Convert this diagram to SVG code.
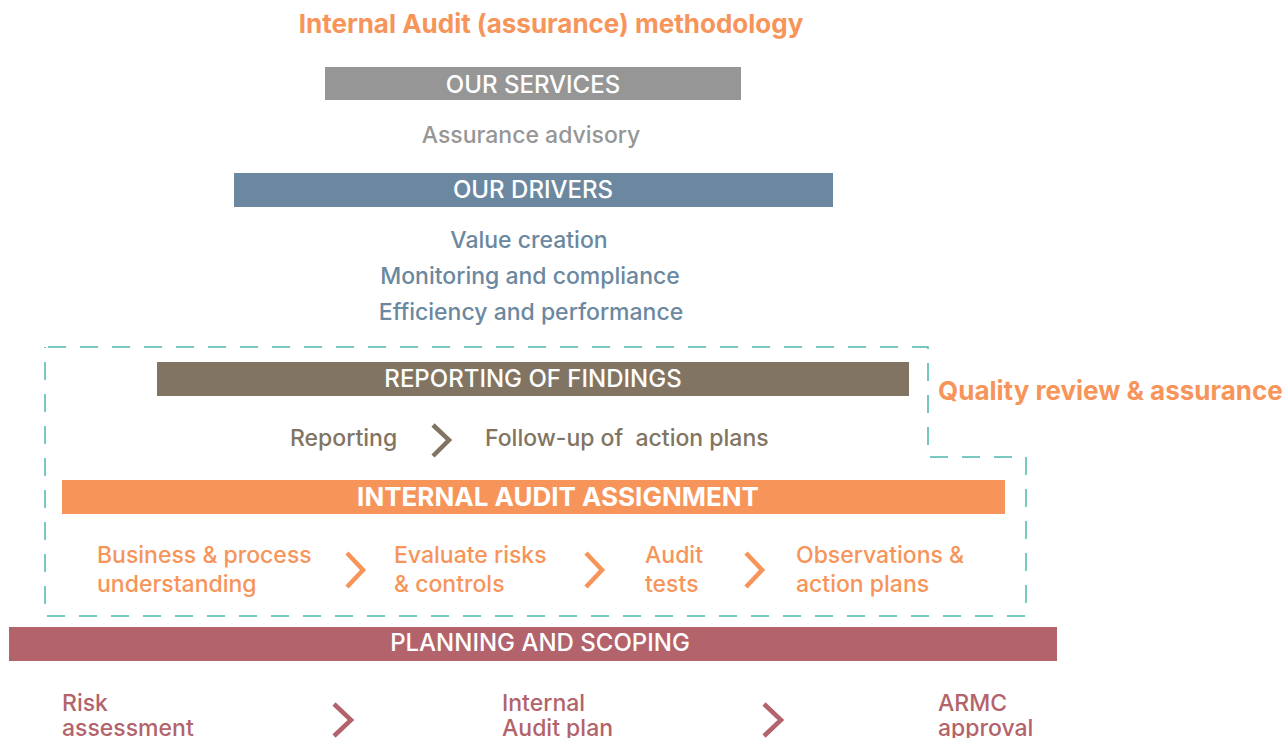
<svg xmlns="http://www.w3.org/2000/svg" width="1284" height="738" viewBox="0 0 1284 738">
<style>
text{font-family:Inter,"Liberation Sans",Arial,sans-serif;font-weight:500}
.bar{font-size:24px;fill:#fff;text-anchor:middle}
.big{font-size:26px}
.bold{font-weight:700}
.o{fill:#F7945A}
.g{fill:#969696}
.b{fill:#6B88A0}
.br{fill:#817462}
.r{fill:#B3636B}
.t{font-size:23px}
.chev{fill:none;stroke-width:4.5;stroke-linejoin:miter}
</style>
<rect width="1284" height="738" fill="#fff"/>
<text x="551" y="33" class="o bold big" text-anchor="middle">Internal Audit (assurance) methodology</text>
<g id="services">
<rect x="325" y="67" width="416" height="33" fill="#969696"/>
<text x="533" y="93" class="bar">OUR SERVICES</text>
<text x="531" y="143" class="g t" text-anchor="middle">Assurance advisory</text>
</g>
<g id="drivers">
<rect x="234" y="173" width="599" height="34" fill="#6B88A0"/>
<text x="533" y="198" class="bar">OUR DRIVERS</text>
<text x="529" y="248" class="b t" text-anchor="middle">Value creation</text>
<text x="530" y="284" class="b t" text-anchor="middle">Monitoring and compliance</text>
<text x="531" y="320" class="b t" text-anchor="middle">Efficiency and performance</text>
</g>
<g id="quality">
<path d="M48 347 H928 V457 H1026 V616 H45 V347" fill="none" stroke="#4BB5B0" stroke-width="1.5" stroke-dasharray="18 14"/>
<text x="938" y="400" class="o bold big">Quality review &amp; assurance</text>
</g>
<g id="reporting">
<rect x="157" y="362" width="752" height="34" fill="#817462"/>
<text x="533" y="387" class="bar">REPORTING OF FINDINGS</text>
<text x="290" y="446" class="br t">Reporting</text>
<text x="485" y="446" class="br t">Follow-up of&#160;&#160;action plans</text>
</g>
<g id="assignment">
<rect x="62" y="480" width="943" height="34" fill="#F7945A"/>
<text x="558" y="506" class="bar bold big">INTERNAL AUDIT ASSIGNMENT</text>
<text class="o t"><tspan x="97" y="563">Business &amp; process</tspan><tspan x="97" y="592">understanding</tspan></text>
<text class="o t"><tspan x="394" y="563">Evaluate risks</tspan><tspan x="394" y="592">&amp; controls</tspan></text>
<text class="o t"><tspan x="645" y="563">Audit</tspan><tspan x="645" y="592">tests</tspan></text>
<text class="o t"><tspan x="796" y="563">Observations &amp;</tspan><tspan x="796" y="592">action plans</tspan></text>
</g>
<g id="planning">
<rect x="9" y="627" width="1048" height="34" fill="#B3636B"/>
<text x="540" y="651" class="bar">PLANNING AND SCOPING</text>
<text class="r t"><tspan x="62" y="711">Risk</tspan><tspan x="62" y="736">assessment</tspan></text>
<text class="r t"><tspan x="502" y="711">Internal</tspan><tspan x="502" y="736">Audit plan</tspan></text>
<text class="r t"><tspan x="938" y="711">ARMC</tspan><tspan x="938" y="736">approval</tspan></text>
</g>
<g id="connectors">
<polyline class="chev" stroke="#817462" points="433,425 449,440 433,456"/>
<polyline class="chev" stroke="#F7945A" points="347,553 363,570 347,587"/>
<polyline class="chev" stroke="#F7945A" points="586,553 602,570 586,587"/>
<polyline class="chev" stroke="#F7945A" points="746,553 762,570 746,587"/>
<polyline class="chev" stroke="#B3636B" points="334,704 351,720 334,736"/>
<polyline class="chev" stroke="#B3636B" points="764,704 781,720 764,736"/>
</g>
</svg>
